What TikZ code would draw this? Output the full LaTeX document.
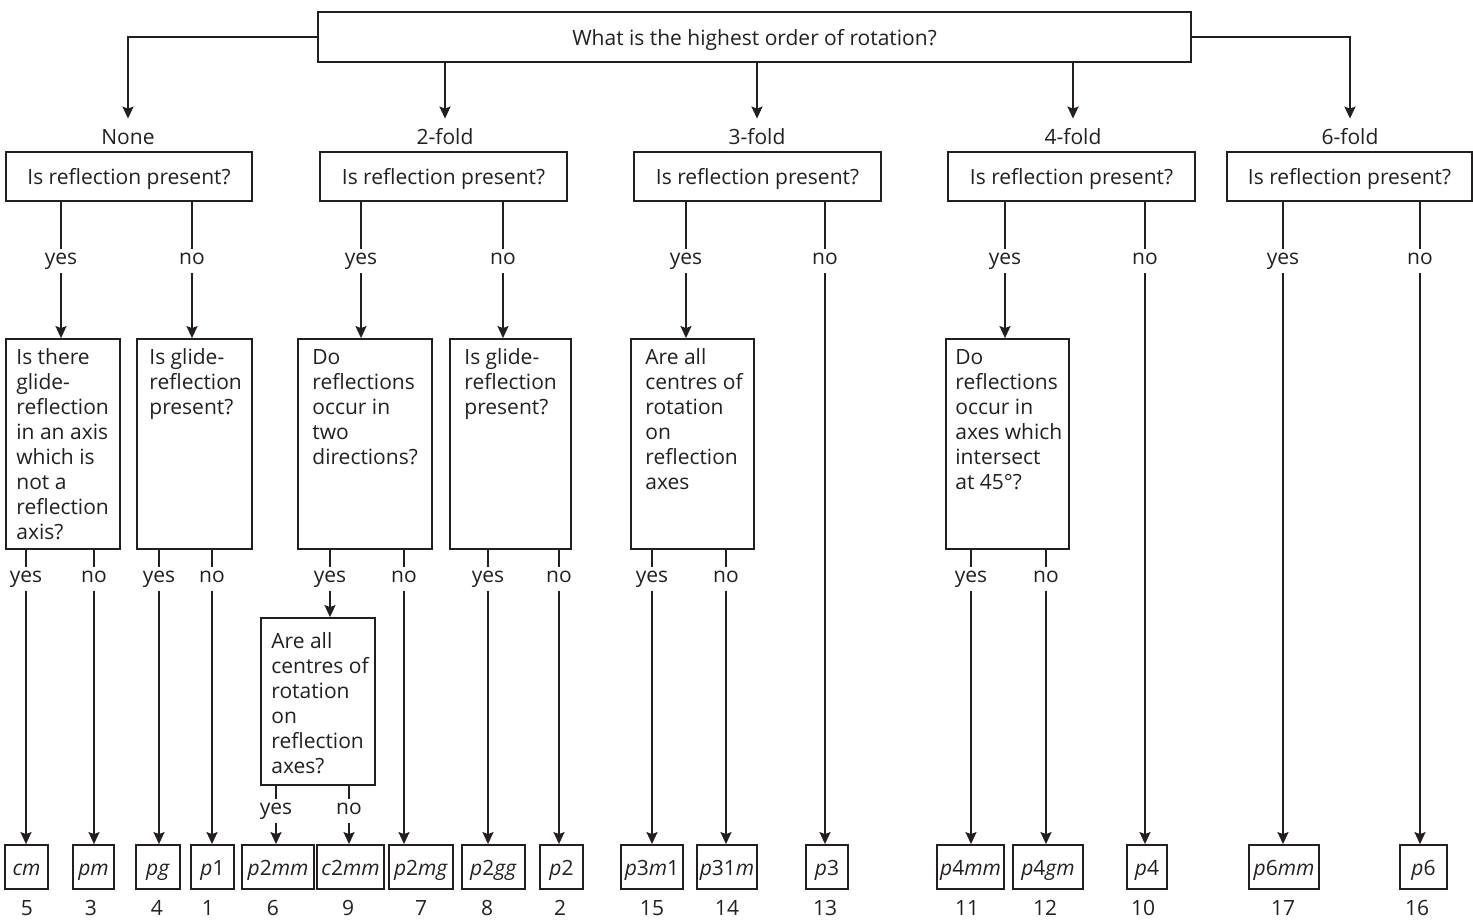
\documentclass[tikz,border=0pt]{standalone}
\usepackage{fontspec}
\setmainfont{Open Sans}
\usetikzlibrary{arrows.meta}
\definecolor{ink}{RGB}{35,31,32}
\newcommand{\fs}{\fontsize{10.5}{12.5}\selectfont}
\begin{document}
\begin{tikzpicture}[x=0.5pt,y=-0.5pt,
  every node/.style={text=ink},
  ln/.style={line width=0.9pt, draw=ink},
  arr/.style={ln, -{Stealth[length=6pt,width=5.5pt,inset=1pt]}},
  box/.style={draw=ink, line width=0.9pt, inner sep=0pt, font=\fs, text height=9pt, text depth=1pt},
  yn/.style={inner sep=0pt, text height=7.5pt, text depth=4.5pt, anchor=base, font=\fs},
  fold/.style={inner sep=0pt, text height=12.5pt, text depth=0pt, anchor=base, font=\fs},
  qtext/.style={inner sep=0pt, anchor=base west, font=\fs},
  num/.style={inner sep=0pt, anchor=base, font=\fs},
  leaf/.style={box, minimum height=22pt}
]
\useasboundingbox (0,0) rectangle (1473,921);

% top question
\node[box, minimum width=436.5pt, minimum height=25pt] (top) at (754.5,37) {What is the highest order of rotation?};

% fold labels
\node[fold] (none) at (128,144) {None};
\node[fold] (two) at (445,144) {2-fold};
\node[fold] (three) at (757,144) {3-fold};
\node[fold] (four) at (1073,144) {4-fold};
\node[fold] (six) at (1350,144) {6-fold};

\draw[arr] (top.west) -| (none.north);
\draw[arr] (top.east) -| (six.north);
\draw[arr] (top.south -| two.north) -- (two.north);
\draw[arr] (top.south -| three.north) -- (three.north);
\draw[arr] (top.south -| four.north) -- (four.north);

% level 2 boxes
\node[box, minimum width=123pt, minimum height=24.5pt] (RA) at (129,176.5) {Is reflection present?};
\node[box, minimum width=123.5pt, minimum height=24.5pt] (RB) at (443.5,176.5) {Is reflection present?};
\node[box, minimum width=123.5pt, minimum height=24.5pt] (RC) at (757.5,176.5) {Is reflection present?};
\node[box, minimum width=123.5pt, minimum height=24.5pt] (RD) at (1071.5,176.5) {Is reflection present?};
\node[box, minimum width=122.5pt, minimum height=24.5pt] (RE) at (1349.5,176.5) {Is reflection present?};

% level 2 yes/no labels
\node[yn] (Ay) at (61,264) {yes};
\node[yn] (An) at (192,264) {no};
\node[yn] (By) at (361,264) {yes};
\node[yn] (Bn) at (503,264) {no};
\node[yn] (Cy) at (686,264) {yes};
\node[yn] (Cn) at (825,264) {no};
\node[yn] (Dy) at (1005,264) {yes};
\node[yn] (Dn) at (1145,264) {no};
\node[yn] (Ey) at (1283,264) {yes};
\node[yn] (En) at (1420,264) {no};

\foreach \b/\l in {RA/Ay,RA/An,RB/By,RB/Bn,RC/Cy,RC/Cn,RD/Dy,RD/Dn,RE/Ey,RE/En}
  \draw[ln] (\b.south -| \l.north) -- (\l.north);

% level 3 boxes
\node[box, minimum width=57pt, minimum height=105pt] (A1) at (63,444) {};
\node[box, minimum width=57.5pt, minimum height=105pt] (A2) at (194.5,444) {};
\node[box, minimum width=67pt, minimum height=105pt] (B1) at (365,444) {};
\node[box, minimum width=60.5pt, minimum height=105pt] (B2) at (510.5,444) {};
\node[box, minimum width=61.5pt, minimum height=105pt] (C1) at (692.5,444) {};
\node[box, minimum width=61.5pt, minimum height=105pt] (D1) at (1007.5,444) {};
\node[box, minimum width=57pt, minimum height=83.5pt] (B3) at (318,701.5) {};

\node[qtext] (A1t) at (16,364) {\parbox[t]{80pt}{\raggedright Is there\\glide-\\reflection\\in an axis\\which is\\not a\\reflection\\axis?}};
\node[qtext] (A2t) at (149,364) {\parbox[t]{80pt}{\raggedright Is glide-\\reflection\\present?}};
\node[qtext] (B1t) at (312,364) {\parbox[t]{80pt}{\raggedright Do\\reflections\\occur in\\two\\directions?}};
\node[qtext] (B2t) at (464,364) {\parbox[t]{80pt}{\raggedright Is glide-\\reflection\\present?}};
\node[qtext] (C1t) at (645,364) {\parbox[t]{80pt}{\raggedright Are all\\centres of\\rotation\\on\\reflection\\axes}};
\node[qtext] (D1t) at (955,364) {\parbox[t]{80pt}{\raggedright Do\\reflections\\occur in\\axes which\\intersect\\at 45°?}};
\node[qtext] (B3t) at (271,648) {\parbox[t]{80pt}{\raggedright Are all\\centres of\\rotation\\on\\reflection\\axes?}};

\draw[arr] (Ay.south) -- (Ay.south |- A1.north);
\draw[arr] (An.south) -- (An.south |- A2.north);
\draw[arr] (By.south) -- (By.south |- B1.north);
\draw[arr] (Bn.south) -- (Bn.south |- B2.north);
\draw[arr] (Cy.south) -- (Cy.south |- C1.north);
\draw[arr] (Dy.south) -- (Dy.south |- D1.north);

% level 3 yes/no labels
\node[yn] (A1y) at (26,582) {yes};
\node[yn] (A1n) at (94,582) {no};
\node[yn] (A2y) at (159,582) {yes};
\node[yn] (A2n) at (212,582) {no};
\node[yn] (B1y) at (330,582) {yes};
\node[yn] (B1n) at (404,582) {no};
\node[yn] (B2y) at (488,582) {yes};
\node[yn] (B2n) at (559,582) {no};
\node[yn] (C1y) at (652,582) {yes};
\node[yn] (C1n) at (726,582) {no};
\node[yn] (D1y) at (971,582) {yes};
\node[yn] (D1n) at (1046,582) {no};
\node[yn] (B3y) at (276,814) {yes};
\node[yn] (B3n) at (349,814) {no};

\foreach \b/\l in {A1/A1y,A1/A1n,A2/A2y,A2/A2n,B1/B1y,B1/B1n,B2/B2y,B2/B2n,C1/C1y,C1/C1n,D1/D1y,D1/D1n,B3/B3y,B3/B3n}
  \draw[ln] (\b.south -| \l.north) -- (\l.north);

\draw[arr] (B1y.south) -- (B1y.south |- B3.north);

% leaf boxes
\node[leaf, minimum width=21.5pt] (cm) at (26.5,867) {\textit{cm}};
\node[leaf, minimum width=20.5pt] (pm) at (93.5,867) {\textit{pm}};
\node[leaf, minimum width=22pt] (pg) at (158,867) {\textit{pg}};
\node[leaf, minimum width=21.5pt] (p1) at (212.5,867) {\textit{p}1};
\node[leaf, minimum width=36pt] (p2mm) at (278,867) {\textit{p}2\textit{mm}};
\node[leaf, minimum width=33.5pt] (c2mm) at (350.5,867) {\textit{c}2\textit{mm}};
\node[leaf, minimum width=32pt] (p2mg) at (421,867) {\textit{p}2\textit{mg}};
\node[leaf, minimum width=31.5pt] (p2gg) at (493.5,867) {\textit{p}2\textit{gg}};
\node[leaf, minimum width=21.5pt] (p2) at (561.5,867) {\textit{p}2};
\node[leaf, minimum width=31pt] (p3m1) at (652,867) {\textit{p}3\textit{m}1};
\node[leaf, minimum width=30pt] (p31m) at (727,867) {\textit{p}31\textit{m}};
\node[leaf, minimum width=21pt] (p3) at (827,867) {\textit{p}3};
\node[leaf, minimum width=33.5pt] (p4mm) at (970.5,867) {\textit{p}4\textit{mm}};
\node[leaf, minimum width=35pt] (p4gm) at (1048,867) {\textit{p}4\textit{gm}};
\node[leaf, minimum width=20pt] (p4) at (1147,867) {\textit{p}4};
\node[leaf, minimum width=35pt] (p6mm) at (1284,867) {\textit{p}6\textit{mm}};
\node[leaf, minimum width=23.5pt] (p6) at (1423.5,867) {\textit{p}6};

\foreach \l/\t in {A1y/cm,A1n/pm,A2y/pg,A2n/p1,B3y/p2mm,B3n/c2mm,B1n/p2mg,B2y/p2gg,B2n/p2,C1y/p3m1,C1n/p31m,Cn/p3,D1y/p4mm,D1n/p4gm,Dn/p4,Ey/p6mm,En/p6}
  \draw[arr] (\l.south) -- (\l.south |- \t.north);

% numbers
\node[num] (n5) at (27,915) {5};
\node[num] (n3) at (91,915) {3};
\node[num] (n4) at (157,915) {4};
\node[num] (n1) at (208,915) {1};
\node[num] (n6) at (273,915) {6};
\node[num] (n9) at (348,915) {9};
\node[num] (n7) at (421,915) {7};
\node[num] (n8) at (487,915) {8};
\node[num] (n2) at (560,915) {2};
\node[num] (n15) at (652,915) {15};
\node[num] (n14) at (727,915) {14};
\node[num] (n13) at (825,915) {13};
\node[num] (n11) at (967,915) {11};
\node[num] (n12) at (1045,915) {12};
\node[num] (n10) at (1143,915) {10};
\node[num] (n17) at (1283,915) {17};
\node[num] (n16) at (1417,915) {16};
\end{tikzpicture}
\end{document}
